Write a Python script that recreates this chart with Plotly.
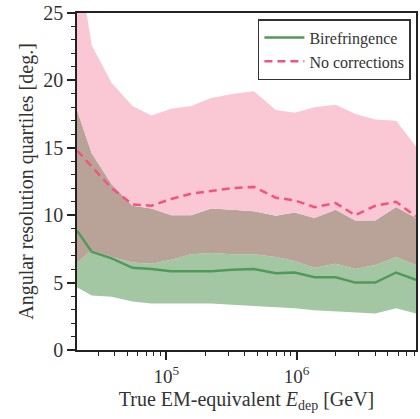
import math
import plotly.graph_objects as go

# Deposited EM-equivalent energy per bin [GeV]
energy_gev = [2.06e4, 2.67e4, 3.80e4, 5.50e4, 7.67e4, 1.09e5, 1.55e5, 2.21e5, 3.19e5,
              4.70e5, 6.92e5, 9.66e5, 1.37e6, 1.99e6, 2.82e6, 4.01e6, 5.80e6, 8.24e6]

# Angular resolution quartiles [deg] with birefringence correction
biref_q25 = [4.65, 4.05, 3.95, 3.6, 3.45, 3.45, 3.4, 3.45, 3.35,
             3.25, 3.2, 3.1, 2.95, 2.85, 2.75, 2.7, 3.1, 2.7]
biref_q50 = [8.85, 7.3, 6.8, 6.1, 6.0, 5.85, 5.85, 5.85, 5.95,
             6.0, 5.7, 5.75, 5.4, 5.4, 5.0, 5.0, 5.75, 5.2]
biref_q75 = [17.8, 14.6, 12.3, 10.7, 10.5, 10.0, 10.0, 10.5, 10.4,
             10.3, 9.95, 10.2, 9.8, 10.4, 9.6, 9.6, 10.6, 9.8]

# Angular resolution quartiles [deg] without corrections
nocorr_q25 = [6.5, 7.4, 6.9, 6.5, 6.4, 6.7, 7.1, 7.2, 7.1,
              7.1, 6.9, 6.6, 6.1, 6.4, 6.0, 6.3, 6.9, 6.3]
nocorr_q50 = [14.8, 13.6, 12.0, 10.8, 10.7, 11.2, 11.6, 11.8, 12.0,
              12.1, 11.3, 11.1, 10.6, 10.9, 10.0, 10.7, 11.0, 9.9]
nocorr_q75 = [29.5, 22.6, 19.8, 18.1, 17.4, 17.9, 18.1, 18.7, 19.0,
              19.2, 17.8, 17.6, 18.0, 18.2, 17.5, 17.1, 17.0, 15.1]

GREEN_FILL = "#a3c6a3"
OVERLAP_FILL = "#b9a398"
PINK_FILL = "#f9c8d4"
GREEN_LINE = "#52995a"
PINK_LINE = "#f2557c"
FONT = "Liberation Serif"

fig = go.Figure()

# Stacked bands: green-only, overlap, pink-only
fig.add_trace(go.Scatter(x=energy_gev, y=biref_q25, mode="lines",
                         line=dict(width=0, color=GREEN_FILL), showlegend=False,
                         hoverinfo="skip"))
fig.add_trace(go.Scatter(x=energy_gev, y=nocorr_q25, mode="lines", fill="tonexty",
                         fillcolor=GREEN_FILL, line=dict(width=0, color=GREEN_FILL),
                         showlegend=False, hoverinfo="skip"))
fig.add_trace(go.Scatter(x=energy_gev, y=biref_q75, mode="lines", fill="tonexty",
                         fillcolor=OVERLAP_FILL, line=dict(width=0, color=OVERLAP_FILL),
                         showlegend=False, hoverinfo="skip"))
fig.add_trace(go.Scatter(x=energy_gev, y=nocorr_q75, mode="lines", fill="tonexty",
                         fillcolor=PINK_FILL, line=dict(width=0, color=PINK_FILL),
                         showlegend=False, hoverinfo="skip"))

# Medians
fig.add_trace(go.Scatter(x=energy_gev, y=biref_q50, mode="lines", name="Birefringence",
                         line=dict(color=GREEN_LINE, width=2.5)))
fig.add_trace(go.Scatter(x=energy_gev, y=nocorr_q50, mode="lines", name="No corrections",
                         line=dict(color=PINK_LINE, width=2.5, dash="8px,5px")))

minor_x = [m * 10 ** d for d in (4, 5, 6) for m in range(2, 10)]

fig.update_layout(
    width=420, height=419,
    margin=dict(l=77, r=2, t=11, b=69),
    paper_bgcolor="white", plot_bgcolor="white",
    font=dict(family=FONT, size=19, color="#333333"),
    legend=dict(x=0.985, y=0.982, xanchor="right", yanchor="top",
                traceorder="normal",
                bordercolor="#333333", borderwidth=1.5, bgcolor="white",
                font=dict(size=16, family=FONT, color="#333333"), tracegroupgap=0,
                itemwidth=40),
    xaxis=dict(
        type="log",
        range=[math.log10(energy_gev[0]), math.log10(energy_gev[-1])],
        tickvals=[1e5, 1e6], ticktext=["10<sup>5</sup>", "10<sup>6</sup>"],
        tickfont=dict(size=19),
        ticks="outside", ticklen=8, tickwidth=1.5, tickcolor="#222222",
        minor=dict(tickvals=minor_x, ticks="outside", ticklen=4.5, tickwidth=1.2,
                   tickcolor="#222222"),
        showline=True, linecolor="#222222", linewidth=1.5, mirror=True,
        showgrid=False, zeroline=False,
        title=dict(text="True EM-equivalent <i>E</i><sub>dep</sub> [GeV]",
                   font=dict(size=20), standoff=6),
    ),
    yaxis=dict(
        range=[0, 25],
        tickvals=[0, 5, 10, 15, 20, 25],
        tickfont=dict(size=20),
        ticks="outside", ticklen=8, tickwidth=1.5, tickcolor="#222222",
        minor=dict(dtick=1, tick0=0, ticks="outside", ticklen=4.5, tickwidth=1.2,
                   tickcolor="#222222"),
        showline=True, linecolor="#222222", linewidth=1.5, mirror=True,
        showgrid=False, zeroline=False,
        title=dict(text="Angular resolution quartiles [deg.]", font=dict(size=20),
                   standoff=4),
    ),
)

fig.write_html("out.html")
